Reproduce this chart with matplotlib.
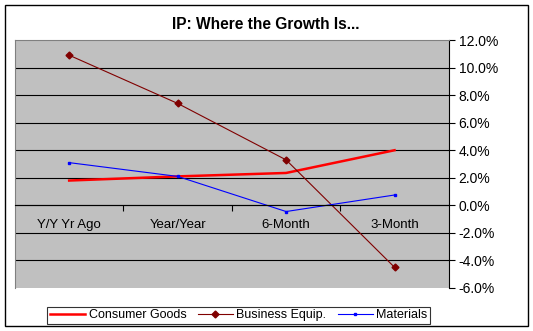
import matplotlib.pyplot as plt
from matplotlib.ticker import FixedLocator, FuncFormatter
from matplotlib.patches import Rectangle

plt.rcParams['font.family'] = ['Liberation Sans', 'DejaVu Sans']

categories = ["Y/Y Yr Ago", "Year/Year", "6-Month", "3-Month"]
consumer_goods = [1.8, 2.1, 2.35, 4.0]
business_equip = [10.9, 7.4, 3.3, -4.5]
materials = [3.1, 2.1, -0.45, 0.75]

fig = plt.figure(figsize=(5.33, 3.31), dpi=100)
fig.patches.append(Rectangle((0.009, 0.015), 0.982, 0.97, transform=fig.transFigure,
                             fill=False, edgecolor="black", linewidth=1))

ax = fig.add_axes([0.028, 0.13, 0.814, 0.749])
ax.set_facecolor("#c0c0c0")
x = list(range(len(categories)))

ax.plot(x, consumer_goods, color="#ff0000", linewidth=1.8, label="Consumer Goods")
ax.plot(x, business_equip, color="#800000", linewidth=0.8, marker="D", markersize=3.5,
        label="Business Equip.")
ax.plot(x, materials, color="#0000ff", linewidth=0.8, marker="s", markersize=1.8,
        label="Materials")

ax.set_xlim(-0.5, 3.5)
ax.set_ylim(-6, 12)
for v in range(-4, 12, 2):
    ax.axhline(v, color="black", linewidth=0.8, zorder=0.5)

ax.yaxis.tick_right()
ax.yaxis.set_major_locator(FixedLocator(range(-6, 13, 2)))
ax.yaxis.set_major_formatter(FuncFormatter(lambda v, p: f"{v:.1f}%"))
ax.tick_params(axis="y", direction="out", length=4, width=0.8, labelsize=10, pad=3)

ax.spines["bottom"].set_position(("data", 0))
ax.spines["bottom"].set_linewidth(0.8)
ax.spines["right"].set_linewidth(0.8)
ax.spines["top"].set_color("#808080")
ax.spines["left"].set_color("#808080")
ax.set_xticks(x)
ax.set_xticklabels(categories)
ax.xaxis.set_minor_locator(FixedLocator([0.5, 1.5, 2.5]))
ax.tick_params(axis="x", which="major", length=0, labelsize=9.5, pad=10)
ax.tick_params(axis="x", which="minor", direction="out", length=4, width=0.8)

fig.text(0.498, 0.925, "IP: Where the Growth Is...", ha="center", va="center",
         fontsize=11.2, fontweight="bold")

leg = fig.legend(loc="center", bbox_to_anchor=(0.448, 0.048), ncol=3, fontsize=9,
                 frameon=True, fancybox=False, edgecolor="black", borderpad=0.2,
                 handlelength=2.8, columnspacing=0.9, handletextpad=0.3)
leg.get_frame().set_linewidth(0.8)

fig.savefig("out.png", dpi=100)
